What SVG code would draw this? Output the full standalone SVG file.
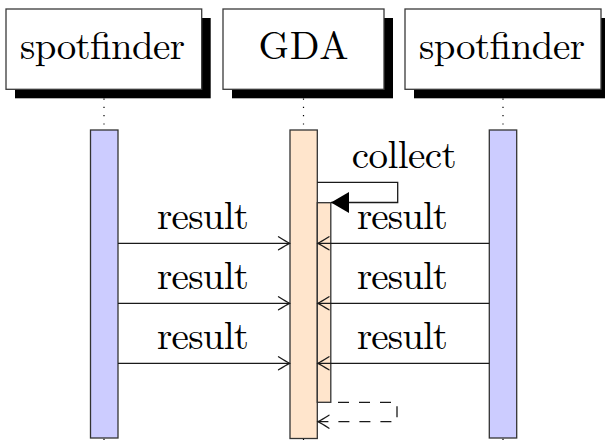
<svg xmlns="http://www.w3.org/2000/svg" width="605" height="443" viewBox="0 0 605 443">
<style>
  .box{fill:#fff;stroke:#3a3a3a;stroke-width:1.3}
  .shadow{fill:#000}
  .t{font-size:39px;fill:#000}
  .life{stroke:#000;stroke-width:1.2;stroke-dasharray:1.2 7.1;fill:none}
  .sf{fill:#ccccff;stroke:#333;stroke-width:1.3}
  .gda{fill:#ffe5cc;stroke:#333;stroke-width:1.3}
  .msg{stroke:#1a1a1a;stroke-width:1.3;fill:none}
  .ret{stroke:#1a1a1a;stroke-width:1.3;fill:none;stroke-dasharray:11 10;stroke-dashoffset:14}
</style>
<defs>
  <marker id="open" markerUnits="userSpaceOnUse" markerWidth="16" markerHeight="16" viewBox="-13 -8 16 16" refX="0" refY="0" orient="auto" overflow="visible">
    <path d="M-11,-6.5 Q-3,-1.5 0,0 Q-3,1.5 -11,6.5" fill="none" stroke="#1a1a1a" stroke-width="1.3" stroke-linecap="round" stroke-dasharray="none"/>
  </marker>
  <marker id="solid" markerUnits="userSpaceOnUse" markerWidth="22" markerHeight="24" viewBox="-19 -12 22 24" refX="0" refY="0" orient="auto" overflow="visible">
    <path d="M0,0 L-18,-10.5 L-18,10.5 Z" fill="#000" stroke="none"/>
  </marker>
</defs>

<g id="lifelines">
  <line class="life" x1="104" y1="98.5" x2="104" y2="443"/>
  <line class="life" x1="303.5" y1="98.5" x2="303.5" y2="443"/>
  <line class="life" x1="503" y1="98.5" x2="503" y2="443"/>
</g>

<g id="node-spotfinder-left" font-family="Latin Modern Roman, Liberation Serif, serif">
  <rect class="shadow" x="15" y="18" width="195.7" height="80.3"/>
  <rect class="box" x="6" y="9" width="195.7" height="80.3"/>
  <text class="t" x="20" y="59.3" textLength="165" lengthAdjust="spacing">spotfinder</text>
</g>
<g id="node-gda" font-family="Latin Modern Roman, Liberation Serif, serif">
  <rect class="shadow" x="232" y="18" width="161" height="80.3"/>
  <rect class="box" x="223" y="9" width="161" height="80.3"/>
  <text class="t" x="303.5" y="59.3" text-anchor="middle" textLength="90" lengthAdjust="spacing">GDA</text>
</g>
<g id="node-spotfinder-right" font-family="Latin Modern Roman, Liberation Serif, serif">
  <rect class="shadow" x="414" y="18" width="196" height="80.3"/>
  <rect class="box" x="405" y="9" width="196" height="80.3"/>
  <text class="t" x="419" y="59.3" textLength="166" lengthAdjust="spacing">spotfinder</text>
</g>

<g id="activation-left">
  <rect class="sf" x="90.5" y="130" width="27.5" height="308"/>
</g>
<g id="activation-gda">
  <rect class="gda" x="290" y="130" width="27.3" height="308.5"/>
  <rect class="gda" x="317.3" y="202.7" width="13.5" height="199.6"/>
</g>
<g id="activation-right">
  <rect class="sf" x="489.3" y="130" width="27.4" height="308"/>
</g>

<g id="connectors">
  <path class="msg" d="M317.3,182.3 H397.7 V202.5 H331" marker-end="url(#solid)"/>
  <line class="msg" x1="118" y1="243.3" x2="289.5" y2="243.3" marker-end="url(#open)"/>
  <line class="msg" x1="489.3" y1="243.3" x2="318" y2="243.3" marker-end="url(#open)"/>
  <line class="msg" x1="118" y1="303.3" x2="289.5" y2="303.3" marker-end="url(#open)"/>
  <line class="msg" x1="489.3" y1="303.3" x2="318" y2="303.3" marker-end="url(#open)"/>
  <line class="msg" x1="118" y1="363.3" x2="289.5" y2="363.3" marker-end="url(#open)"/>
  <line class="msg" x1="489.3" y1="363.3" x2="318" y2="363.3" marker-end="url(#open)"/>
  <path class="ret" d="M331,402.3 H397 V421.7 H318" marker-end="url(#open)"/>
</g>

<g id="labels" font-family="Latin Modern Roman, Liberation Serif, serif">
  <text class="t" x="351.7" y="168.3" textLength="105" lengthAdjust="spacing">collect</text>
  <text class="t" x="157" y="228.5" textLength="92" lengthAdjust="spacing">result</text>
  <text class="t" x="357" y="228.5" textLength="91" lengthAdjust="spacing">result</text>
  <text class="t" x="157" y="288.5" textLength="92" lengthAdjust="spacing">result</text>
  <text class="t" x="357" y="288.5" textLength="91" lengthAdjust="spacing">result</text>
  <text class="t" x="157" y="348.5" textLength="92" lengthAdjust="spacing">result</text>
  <text class="t" x="357" y="348.5" textLength="91" lengthAdjust="spacing">result</text>
</g>
</svg>
